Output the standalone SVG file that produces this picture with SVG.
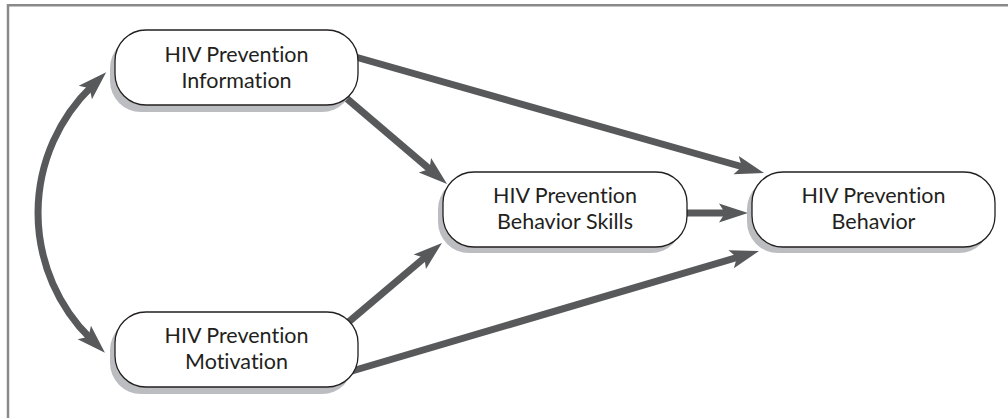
<svg xmlns="http://www.w3.org/2000/svg" width="1008" height="418" viewBox="0 0 1008 418">
  <style>
    .frame { stroke: #8a8a8c; stroke-width: 2.5; fill: none; }
    .shadow { fill: #bcbdc0; }
    .box { fill: #ffffff; stroke: #231f20; stroke-width: 1.3; }
    .label { font-family: Lato, "Open Sans", sans-serif; font-size: 21.5px; fill: #231f20; text-anchor: middle; font-variant-ligatures: none; font-feature-settings: "liga" 0; }
    .link { fill: none; stroke: #58595b; stroke-width: 7; marker-end: url(#head); }
    .both { marker-start: url(#head); }
  </style>
  <defs>
    <!-- swept-back arrowhead; shaft stops 20px short of the tip -->
    <marker id="head" viewBox="0 0 31 20" markerWidth="31" markerHeight="20" refX="10" refY="10" markerUnits="userSpaceOnUse" orient="auto-start-reverse">
      <path d="M30,10 L1,0.5 L7,10 L1,19.5 Z" fill="#58595b"/>
    </marker>
  </defs>

  <rect width="1008" height="418" fill="#ffffff"/>
  <path class="frame" d="M8,418 V5.3 H1008"/>

  <g id="connectors">
    <path class="link both" d="M91.8,86.2 A176.5,176.5 0 0 0 90.7,338.8"/>
    <path class="link" d="M352,56 L744.8,167.5"/>
    <path class="link" d="M345,97 L431.8,171"/>
    <path class="link" d="M680,213 L728,213"/>
    <path class="link" d="M345,325 L426.7,255.9"/>
    <path class="link" d="M352,371 L739.8,256.7"/>
  </g>

  <g id="information">
    <rect class="shadow" x="110" y="37" width="243" height="75" rx="31"/>
    <rect class="box" x="115" y="30" width="243" height="75" rx="31"/>
    <text class="label" x="236.5" y="61.5">HIV Prevention</text>
    <text class="label" x="236.5" y="87.5">Information</text>
  </g>

  <g id="motivation">
    <rect class="shadow" x="110" y="319" width="243" height="75" rx="31"/>
    <rect class="box" x="115" y="312" width="243" height="75" rx="31"/>
    <text class="label" x="236.5" y="343">HIV Prevention</text>
    <text class="label" x="236.5" y="369">Motivation</text>
  </g>

  <g id="behavior-skills">
    <rect class="shadow" x="438" y="178" width="244" height="75" rx="31"/>
    <rect class="box" x="443" y="172" width="244" height="75" rx="31"/>
    <text class="label" x="565" y="203">HIV Prevention</text>
    <text class="label" x="565" y="229">Behavior Skills</text>
  </g>

  <g id="behavior">
    <rect class="shadow" x="747" y="178" width="243" height="75" rx="31"/>
    <rect class="box" x="752" y="172" width="243" height="75" rx="31"/>
    <text class="label" x="873.5" y="203">HIV Prevention</text>
    <text class="label" x="873.5" y="229">Behavior</text>
  </g>
</svg>
